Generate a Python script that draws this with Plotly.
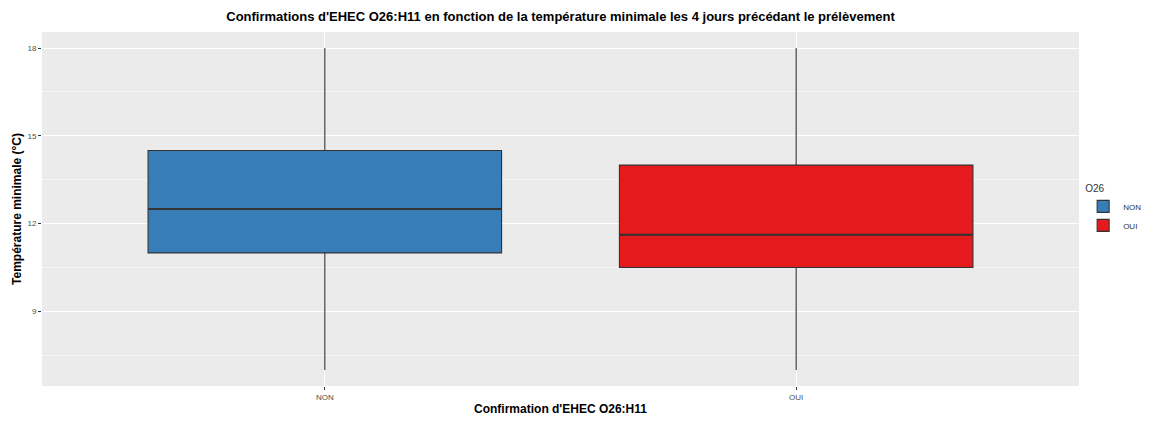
import plotly.graph_objects as go

# Summary statistics
categories = ["NON", "OUI"]
colors = ["#377EB8", "#E41A1C"]
q1 = [11.0, 10.5]
median = [12.5, 11.62]
q3 = [14.5, 14.0]
lower = [7.0, 7.0]
upper = [18.0, 18.0]

fig = go.Figure()

for i, cat in enumerate(categories):
    fig.add_trace(go.Box(
        x=[cat],
        q1=[q1[i]], median=[median[i]], q3=[q3[i]],
        lowerfence=[lower[i]], upperfence=[upper[i]],
        name=cat,
        fillcolor=colors[i],
        line=dict(color="#333333", width=1.1),
        whiskerwidth=0,
        width=0.75,
        boxpoints=False,
    ))

# thicker median line, like ggplot's fatten
for i, cat in enumerate(categories):
    fig.add_trace(go.Box(
        x=[cat],
        q1=[median[i]], median=[median[i]], q3=[median[i]],
        lowerfence=[median[i]], upperfence=[median[i]],
        fillcolor="rgba(0,0,0,0)",
        line=dict(color="#333333", width=2.2),
        whiskerwidth=0,
        width=0.75,
        boxpoints=False,
        showlegend=False,
        hoverinfo="skip",
    ))

fig.update_layout(
    width=1150, height=423,
    boxmode="overlay",
    paper_bgcolor="white",
    plot_bgcolor="#EBEBEB",
    font=dict(family="Liberation Sans, Arial, sans-serif", color="black"),
    margin=dict(l=42, r=71, t=32, b=37, autoexpand=False),
    title=dict(
        text="<b>Confirmations d'EHEC O26:H11 en fonction de la température minimale les 4 jours précédant le prélèvement</b>",
        x=(42 + 1079) / 2 / 1150, xanchor="center", y=0.96, yanchor="middle",
        font=dict(size=13),
    ),
    legend=dict(
        title=dict(text="O26", font=dict(size=10)),
        x=1.004, xanchor="left", y=0.585, yanchor="top",
        font=dict(size=8, color="#333333"),
        bgcolor="rgba(0,0,0,0)",
        tracegroupgap=2,
        itemwidth=30,
    ),
    xaxis=dict(
        title=dict(text="<b>Confirmation d'EHEC O26:H11</b>", font=dict(size=12), standoff=4),
        type="category",
        range=[-0.6, 1.6],
        automargin=False,
        showgrid=True, gridcolor="white", gridwidth=1,
        ticks="outside", ticklen=3, tickcolor="#333333",
        tickfont=dict(size=8, color="#4D4D4D"),
        zeroline=False,
    ),
    yaxis=dict(
        title=dict(text="<b>Température minimale (°C)</b>", font=dict(size=12), standoff=3),
        range=[6.45, 18.55],
        tickvals=[9, 12, 15, 18],
        automargin=False,
        showgrid=True, gridcolor="white", gridwidth=1,
        minor=dict(tickvals=[7.5, 10.5, 13.5, 16.5], showgrid=True, gridcolor="#F5F5F5", gridwidth=0.6),
        ticks="outside", ticklen=3, tickcolor="#333333",
        tickfont=dict(size=8, color="#4D4D4D"),
        zeroline=False,
    ),
)

# drop the browser's default body margin so the figure sits at the page origin
fig.write_html("out.html", config={"displayModeBar": False},
               post_script="document.body.style.margin='0';")
